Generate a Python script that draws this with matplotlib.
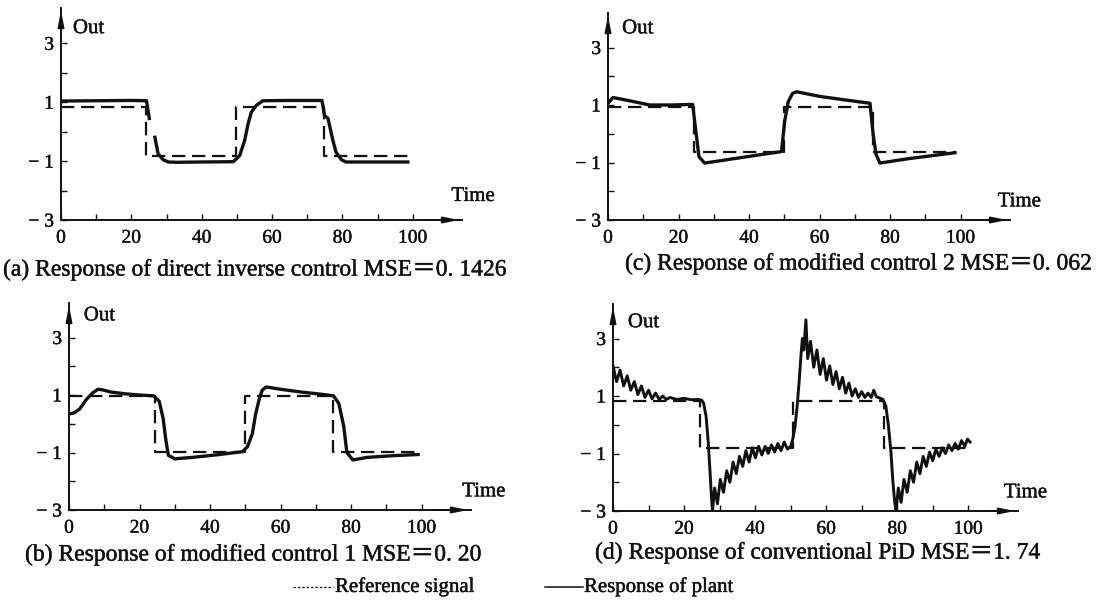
import numpy as np
import matplotlib
matplotlib.use("Agg")
import matplotlib.pyplot as plt
import matplotlib.patheffects as pe
from matplotlib.lines import Line2D

# # Data

nan = np.nan

# (a) direct inverse control
a_ref_t = [0, 24.3, 24.3, 49.7, 49.7, 74.9, 74.9, 98.6]
a_ref_y = [0.85, 0.85, -0.83, -0.83, 0.85, 0.85, -0.83, -0.83]
a_out_t = [0, 10, 20, 24.3, 24.7, 25.1, nan, 26.7, 27.6, 29.0, 30.5, 33, 40, 49.0, 50.8, 52.2, 53.2, 54.1,
           55.5, 57.4, 65, 74.2, 74.9, 75.9, 77.3, 78.2, 79.7, 81.0, 90, 98.6]
a_out_y = [1.04, 1.05, 1.06, 1.05, 0.75, 0.45, nan, -0.19, -0.75, -0.95, -1.03, -1.04, -1.03, -1.02, -0.81, -0.3,
           0.27, 0.66, 0.89, 1.05, 1.06, 1.06, 0.55, 0.45, -0.3, -0.7, -0.95, -1.03, -1.03, -1.03]

# (c) modified control 2
c_ref_t = [0, 24.5, 24.5, 50.0, 50.0, 75.2, 75.2, 98.4]
c_ref_y = [0.92, 0.92, -0.62, -0.62, 0.92, 0.92, -0.62, -0.62]
c_out_t = [0, 1.4, 6, 11.8, 18, 24.0, 24.8, 25.8, 27.4, 35, 42, 49.2, 50.1, 51.1, 52.3, 53.5, 60, 67,
           74.3, 75.2, 76.0, 77.1, 85, 92, 98.4]
c_out_y = [1.06, 1.26, 1.15, 1.0, 1.0, 1.02, 0.2, -0.8, -1.02, -0.88, -0.75, -0.62, 0.43, 1.11, 1.4, 1.46, 1.3,
           1.18, 1.06, -0.03, -0.71, -1.02, -0.87, -0.76, -0.66]

# (b) modified control 1
b_ref_t = [0, 24.4, 24.4, 49.8, 49.8, 74.8, 74.8, 99]
b_ref_y = [0.96, 0.96, -0.98, -0.98, 0.96, 0.96, -0.98, -0.98]
b_out_t = [0, 1.5, 3, 4.9, 6.5, 8.2, 9.5, 12, 16, 20, 24.0, 25.6, 26.7, 27.5, 28.2, 30.0, 35, 42, 49.2,
           50.6, 52.0, 52.9, 53.9, 54.8, 55.9, 60, 66, 72, 75.0, 76.5, 77.9, 78.8, 80.5, 84.5, 92, 99]
b_out_y = [0.34, 0.38, 0.51, 0.84, 1.05, 1.2, 1.18, 1.1, 1.04, 1.0, 0.97, 0.78, 0.18, -0.6, -1.1, -1.22, -1.17,
           -1.08, -0.97, -0.8, -0.34, 0.32, 0.84, 1.17, 1.28, 1.2, 1.1, 1.02, 0.97, 0.71, -0.08, -1.0, -1.26,
           -1.17, -1.11, -1.07]

# (d) conventional PID
d_ref_t = [0, 24.5, 24.5, 50.8, 50.8, 76.2, 76.2, 100.7]
d_ref_y = [0.83, 0.83, -0.8, -0.8, 0.83, 0.83, -0.8, -0.8]
d_out_t = [0, 1, 2, 3, 4, 5, 6, 7, 8, 9, 10, 11, 12, 13, 14, 15, 16, 18, 20, 22, 24, 25,
           25.5, 26.2, 26.8, 27.3, 27.7, 28.0,
           28.6, 29.4, 30.2, 31.1, 32.0, 32.9, 33.8, 34.7, 35.6, 36.5, 37.4, 38.3, 39.2, 40.1, 41.0, 41.9,
           42.8, 43.7, 44.6, 45.5, 46.4, 47.3, 48.2, 49.1, 50.0,
           50.6, 51.2, 51.8, 52.4, 52.9, 53.3, 53.7, 54.3,
           54.8, 55.6, 56.5, 57.4, 58.3, 59.2, 60.1, 61.0, 61.9, 62.8, 63.7, 64.6, 65.5, 66.4, 67.3, 68.2,
           69.1, 70.0, 70.9, 71.8, 72.7, 73.4, 74.1, 75.0, 76.0,
           76.8, 77.5, 78.2, 78.8, 79.3, 79.7,
           80.3, 81.1, 81.9, 82.8, 83.7, 84.6, 85.5, 86.4, 87.3, 88.2, 89.1, 90.0, 90.9, 91.8, 92.7, 93.6,
           94.5, 95.4, 96.3, 97.2, 98.1, 99.0, 99.8, 100.5]
d_out_y = [2.05, 1.5, 1.9, 1.35, 1.7, 1.2, 1.5, 1.05, 1.35, 0.95, 1.2, 0.9, 1.1, 0.88, 1.0, 0.88, 0.95, 0.88,
           0.92, 0.87, 0.88, 0.85,
           0.75, 0.3, -0.6, -1.6, -2.5, -3.0,
           -2.2, -2.75, -1.9, -2.35, -1.6, -2.0, -1.3, -1.7, -1.1, -1.45, -0.9, -1.3, -0.8, -1.15, -0.75, -1.05,
           -0.75, -1.0, -0.7, -0.95, -0.65, -0.9, -0.6, -0.85, -0.75,
           -0.5, -0.1, 0.6, 1.5, 2.4, 3.0, 2.6, 3.65,
           2.3, 2.9, 2.0, 2.6, 1.75, 2.3, 1.55, 2.05, 1.4, 1.85, 1.25, 1.65, 1.1, 1.45, 1.0, 1.25,
           0.95, 1.15, 0.95, 1.1, 0.95, 1.2, 0.98, 0.93, 0.88,
           0.65, 0.0, -0.9, -2.0, -2.7, -3.0,
           -2.2, -2.7, -1.9, -2.35, -1.6, -2.0, -1.3, -1.7, -1.1, -1.45, -0.95, -1.25, -0.85, -1.1, -0.8, -1.0,
           -0.7, -0.9, -0.65, -0.85, -0.55, -0.75, -0.5, -0.6]

captions = ["(a) Response of direct inverse control MSE\uff1d0. 1426",
            "(c) Response of modified control 2 MSE\uff1d0. 062",
            "(b) Response of modified control 1 MSE\uff1d0. 20",
            "(d) Response of conventional PiD MSE\uff1d1. 74"]

# # Figure

FAMILY = ['Liberation Serif', 'Noto Sans CJK SC', 'DejaVu Serif']
plt.rcParams['font.family'] = FAMILY
FS = 14
INK = '#111111'
# printed text in the scan is a bit heavy, thicken the glyphs slightly
HEAVY = [pe.withStroke(linewidth=0.3, foreground=INK)]

W, H = 1104, 600
fig = plt.figure(figsize=(W / 100, H / 100), dpi=100)


# axes rectangle from pixel positions (left, right, bottom, top), y counted from the top
def panel(left, right, bottom, top):
    return fig.add_axes([left / W, 1 - bottom / H, (right - left) / W, (bottom - top) / H])


def style(ax, out_xy, time_xy):
    ax.set_xlim(0, 114)
    ax.set_ylim(-3, 4.2)
    for s in ['top', 'right']:
        ax.spines[s].set_visible(False)
    for s in ['left', 'bottom']:
        ax.spines[s].set_linewidth(1.4)
        ax.spines[s].set_color(INK)
    ax.set_xticks([0, 20, 40, 60, 80, 100])
    ax.set_xticks([10, 30, 50, 70, 90], minor=True)
    ax.set_yticks([-3, -1, 1, 3])
    ax.set_yticklabels(['\u2212 3', '\u2212 1', '1', '3'])
    ax.set_yticks([-2, 0, 2], minor=True)
    ax.tick_params(which='both', direction='in', length=4, width=1, colors=INK, labelsize=FS)
    ax.tick_params(axis='x', pad=7)
    ax.tick_params(axis='y', pad=5)
    for lab in ax.get_xticklabels() + ax.get_yticklabels():
        lab.set_path_effects(HEAVY)
    # axis arrows
    ax.annotate('', xy=(1.0, 0), xytext=(0.9, 0), xycoords='axes fraction',
                arrowprops=dict(arrowstyle='-|>,head_length=0.9,head_width=0.18', lw=1.4, color=INK))
    ax.annotate('', xy=(0, 1.0), xytext=(0, 0.9), xycoords='axes fraction',
                arrowprops=dict(arrowstyle='-|>,head_length=0.9,head_width=0.18', lw=1.4, color=INK))
    ax.text(out_xy[0], out_xy[1], 'Out', fontsize=FS + 1, ha='left', va='center', color=INK,
            path_effects=HEAVY)
    ax.text(time_xy[0], time_xy[1], 'Time', fontsize=FS + 1, ha='left', va='center', color=INK,
            clip_on=False, path_effects=HEAVY)


def draw(ax, rt, ry, ot, oy, lw=2.4):
    ax.plot(rt, ry, color=INK, lw=1.6, dashes=(6, 3))
    ax.plot(ot, oy, color=INK, lw=lw, solid_joinstyle='round')


ax_a = panel(61, 462, 220, 8)
style(ax_a, (3.4, 3.5), (111, -2.2))
draw(ax_a, a_ref_t, a_ref_y, a_out_t, a_out_y)

ax_c = panel(608, 1010, 220, 13)
style(ax_c, (4, 3.65), (110.5, -2.37))
draw(ax_c, c_ref_t, c_ref_y, c_out_t, c_out_y)

ax_b = panel(69, 471, 510, 303)
style(ax_b, (4.2, 3.75), (111.5, -2.37))
draw(ax_b, b_ref_t, b_ref_y, b_out_t, b_out_y)

ax_d = panel(613, 1018, 511, 304)
style(ax_d, (4.2, 3.55), (110, -2.37))
draw(ax_d, d_ref_t, d_ref_y, d_out_t, d_out_y, lw=2.1)

# captions
cap_pos = [(3, 270), (625, 264), (25, 555), (595, 553)]
for txt, (px, py) in zip(captions, cap_pos):
    fig.text(px / W, 1 - py / H, txt, fontsize=17, ha='left', va='center', color=INK, path_effects=HEAVY)

# legend at the bottom
fig.add_artist(Line2D([293 / W, 333 / W], [1 - 587 / H, 1 - 587 / H], color=INK, lw=0.9, dashes=(2, 1.5)))
fig.text(335 / W, 1 - 587 / H, 'Reference signal', fontsize=FS + 1, ha='left', va='center', color=INK,
         path_effects=HEAVY)
fig.add_artist(Line2D([545 / W, 583 / W], [1 - 587 / H, 1 - 587 / H], color=INK, lw=1.1))
fig.text(584 / W, 1 - 587 / H, 'Response of plant', fontsize=FS + 1, ha='left', va='center', color=INK,
         path_effects=HEAVY)

plt.savefig('out.png', dpi=100)
